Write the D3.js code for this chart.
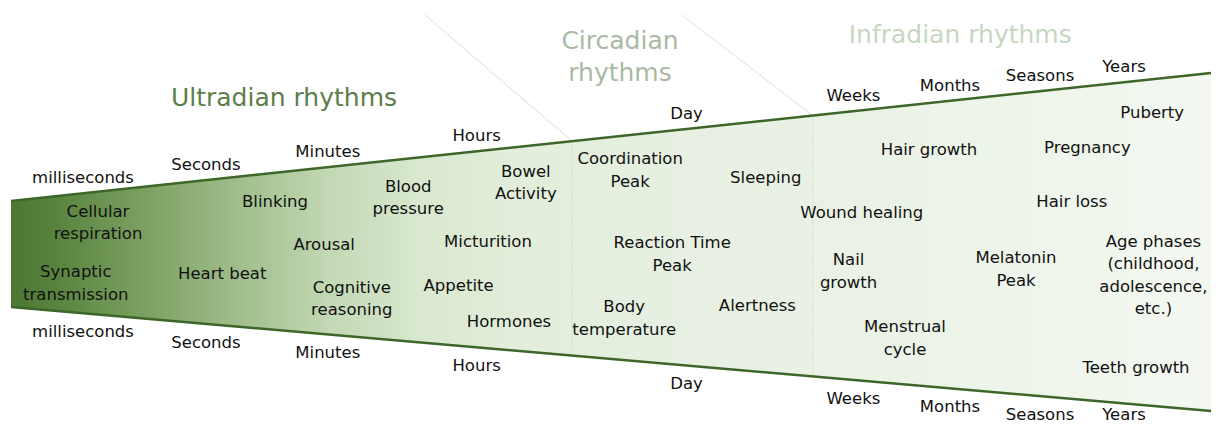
<!DOCTYPE html>
<html>
<head>
<meta charset="utf-8">
<script src="https://cdn.jsdelivr.net/npm/d3@7"></script>
<style>
  body { margin: 0; background: #fff; }
  svg { display: block; font-family: "DejaVu Sans", Verdana, sans-serif; }
</style>
</head>
<body>
<div id="chart"></div>
<script>
// time scale labels (same on top and bottom edge), position along timeline 0..100
var timeLabels = ["milliseconds", "Seconds", "Minutes", "Hours", "Day", "Weeks", "Months", "Seasons", "Years"];
var timePos = [6.0, 16.25, 26.4, 38.8, 56.3, 70.2, 78.25, 85.75, 92.75];

// rhythm groups
var groupNames = ["Ultradian rhythms", "Circadian\nrhythms", "Infradian rhythms"];
var groupPos = [22.75, 50.75, 79.1];
var groupColors = ["#5d7d4c", "#a9b9a3", "#c8d6c3"];
var dividerPos = [46.75, 66.8];
var dividerTopPos = [34.5, 55.9];

// phenomena inside the funnel: position on timeline, depth 0 (top edge) .. 1 (bottom edge)
var itemLabels = [
  "Cellular\nrespiration", "Synaptic\ntransmission", "Blinking", "Heart beat",
  "Blood\npressure", "Arousal", "Cognitive\nreasoning", "Bowel\nActivity",
  "Micturition", "Appetite", "Hormones", "Coordination\nPeak", "Sleeping",
  "Reaction Time\nPeak", "Body\ntemperature", "Alertness", "Wound healing",
  "Nail\ngrowth", "Hair growth", "Menstrual\ncycle", "Pregnancy", "Hair loss",
  "Melatonin\nPeak", "Puberty", "Age phases\n(childhood,\nadolescence,\netc.)", "Teeth growth"
];
var itemPos = [7.25, 5.4, 22.0, 17.6, 33.1, 26.1, 28.4, 42.9, 39.75, 37.3, 41.5, 51.6, 62.9,
  55.1, 51.1, 62.2, 70.9, 69.8, 76.5, 74.5, 89.7, 88.4, 83.75, 95.1, 95.2, 93.75];
var itemDepth = [0.247, 0.746, 0.18, 0.644, 0.21, 0.459, 0.776, 0.175, 0.458, 0.684, 0.856,
  0.155, 0.225, 0.528, 0.812, 0.733, 0.376, 0.593, 0.162, 0.832, 0.193, 0.364, 0.583,
  0.100, 0.598, 0.884];

var width = 1216, height = 426;

var svg = d3.select("#chart").append("svg")
  .attr("width", width)
  .attr("height", height);

var x = d3.scaleLinear().domain([0, 100]).range([11, 1211]);
// top and bottom edge of the funnel
var topEdge = d3.scaleLinear().domain([0, 100]).range([201, 73]);
var bottomEdge = d3.scaleLinear().domain([0, 100]).range([307, 411]);
function depthY(v, t) {
  return topEdge(v) + t * (bottomEdge(v) - topEdge(v));
}

// gradient fill
var defs = svg.append("defs");
var grad = defs.append("linearGradient")
  .attr("id", "fade")
  .attr("gradientUnits", "userSpaceOnUse")
  .attr("x1", x(0)).attr("x2", x(100))
  .attr("y1", 0).attr("y2", 0);
var stops = [
  [0, "#4b7732"], [0.041, "#5a8540"], [0.116, "#7ea265"], [0.199, "#a4c190"],
  [0.266, "#c3d8b4"], [0.341, "#d9e8cf"], [0.424, "#e2eedb"], [0.574, "#e7f0e2"],
  [0.824, "#edf4e9"], [1, "#f4f8f1"]
];
grad.selectAll("stop").data(stops).enter().append("stop")
  .attr("offset", function (d) { return d[0]; })
  .attr("stop-color", function (d) { return d[1]; });

// faint diagonal lines bounding circadian zone
svg.selectAll(".diag").data(dividerPos).enter().append("line")
  .attr("x1", function (d, i) { return x(dividerTopPos[i]); })
  .attr("y1", 15)
  .attr("x2", function (d) { return x(d); })
  .attr("y2", function (d) { return topEdge(d); })
  .style("stroke", "#ebebeb")
  .style("stroke-width", 1.5);

// funnel
var funnel = [[0, "t"], [100, "t"], [100, "b"], [0, "b"]];
svg.append("path")
  .attr("d", d3.line()
    .x(function (d) { return x(d[0]); })
    .y(function (d) { return d[1] == "t" ? topEdge(d[0]) : bottomEdge(d[0]); })(funnel) + "Z")
  .style("fill", "url(#fade)");

// dotted dividers
svg.selectAll(".divider").data(dividerPos).enter().append("line")
  .attr("x1", function (d) { return x(d); })
  .attr("x2", function (d) { return x(d); })
  .attr("y1", function (d) { return topEdge(d); })
  .attr("y2", function (d) { return bottomEdge(d); })
  .style("stroke", "#c4cbc0")
  .style("stroke-width", 1)
  .style("stroke-dasharray", "1,2");

// edges
[topEdge, bottomEdge].forEach(function (edge) {
  svg.append("line")
    .attr("x1", x(0)).attr("y1", edge(0))
    .attr("x2", x(100)).attr("y2", edge(100))
    .style("stroke", "#3d6629")
    .style("stroke-width", 2.5);
});

// time labels
svg.selectAll(".tTop").data(timeLabels).enter().append("text")
  .attr("x", function (d, i) { return x(timePos[i]); })
  .attr("y", function (d, i) { return topEdge(timePos[i]) - 16; })
  .attr("dy", "0.35em")
  .attr("text-anchor", "middle")
  .style("font-size", "16.5px")
  .style("fill", "#111")
  .text(function (d) { return d; });

svg.selectAll(".tBot").data(timeLabels).enter().append("text")
  .attr("x", function (d, i) { return x(timePos[i]); })
  .attr("y", function (d, i) { return Math.min(bottomEdge(timePos[i]) + 18, height - 12); })
  .attr("dy", "0.35em")
  .attr("text-anchor", "middle")
  .style("font-size", "16.5px")
  .style("fill", "#111")
  .text(function (d) { return d; });

// group titles
var titleY = [97, 40, 34];
svg.selectAll(".title").data(groupNames).enter().append("text")
  .attr("text-anchor", "middle")
  .attr("y", function (d, i) { return titleY[i]; })
  .style("font-size", "25px")
  .style("fill", function (d, i) { return groupColors[i]; })
  .each(function (d, i) {
    var lines = d.split("\n");
    d3.select(this).selectAll("tspan").data(lines).enter().append("tspan")
      .attr("x", x(groupPos[i]))
      .attr("dy", function (l, j) { return j == 0 ? "0.35em" : "1.3em"; })
      .text(function (l) { return l; });
  });

// phenomena
var lineH = 22.5;
svg.selectAll(".item").data(itemLabels).enter().append("text")
  .attr("text-anchor", "middle")
  .style("font-size", "16.5px")
  .style("fill", "#111")
  .each(function (d, i) {
    var lines = d.split("\n");
    var cy = depthY(itemPos[i], itemDepth[i]) - (lines.length - 1) * lineH / 2;
    d3.select(this).selectAll("tspan").data(lines).enter().append("tspan")
      .attr("x", x(itemPos[i]))
      .attr("y", function (l, j) { return cy + j * lineH; })
      .attr("dy", "0.35em")
      .text(function (l) { return l; });
  });
</script>
</body>
</html>
